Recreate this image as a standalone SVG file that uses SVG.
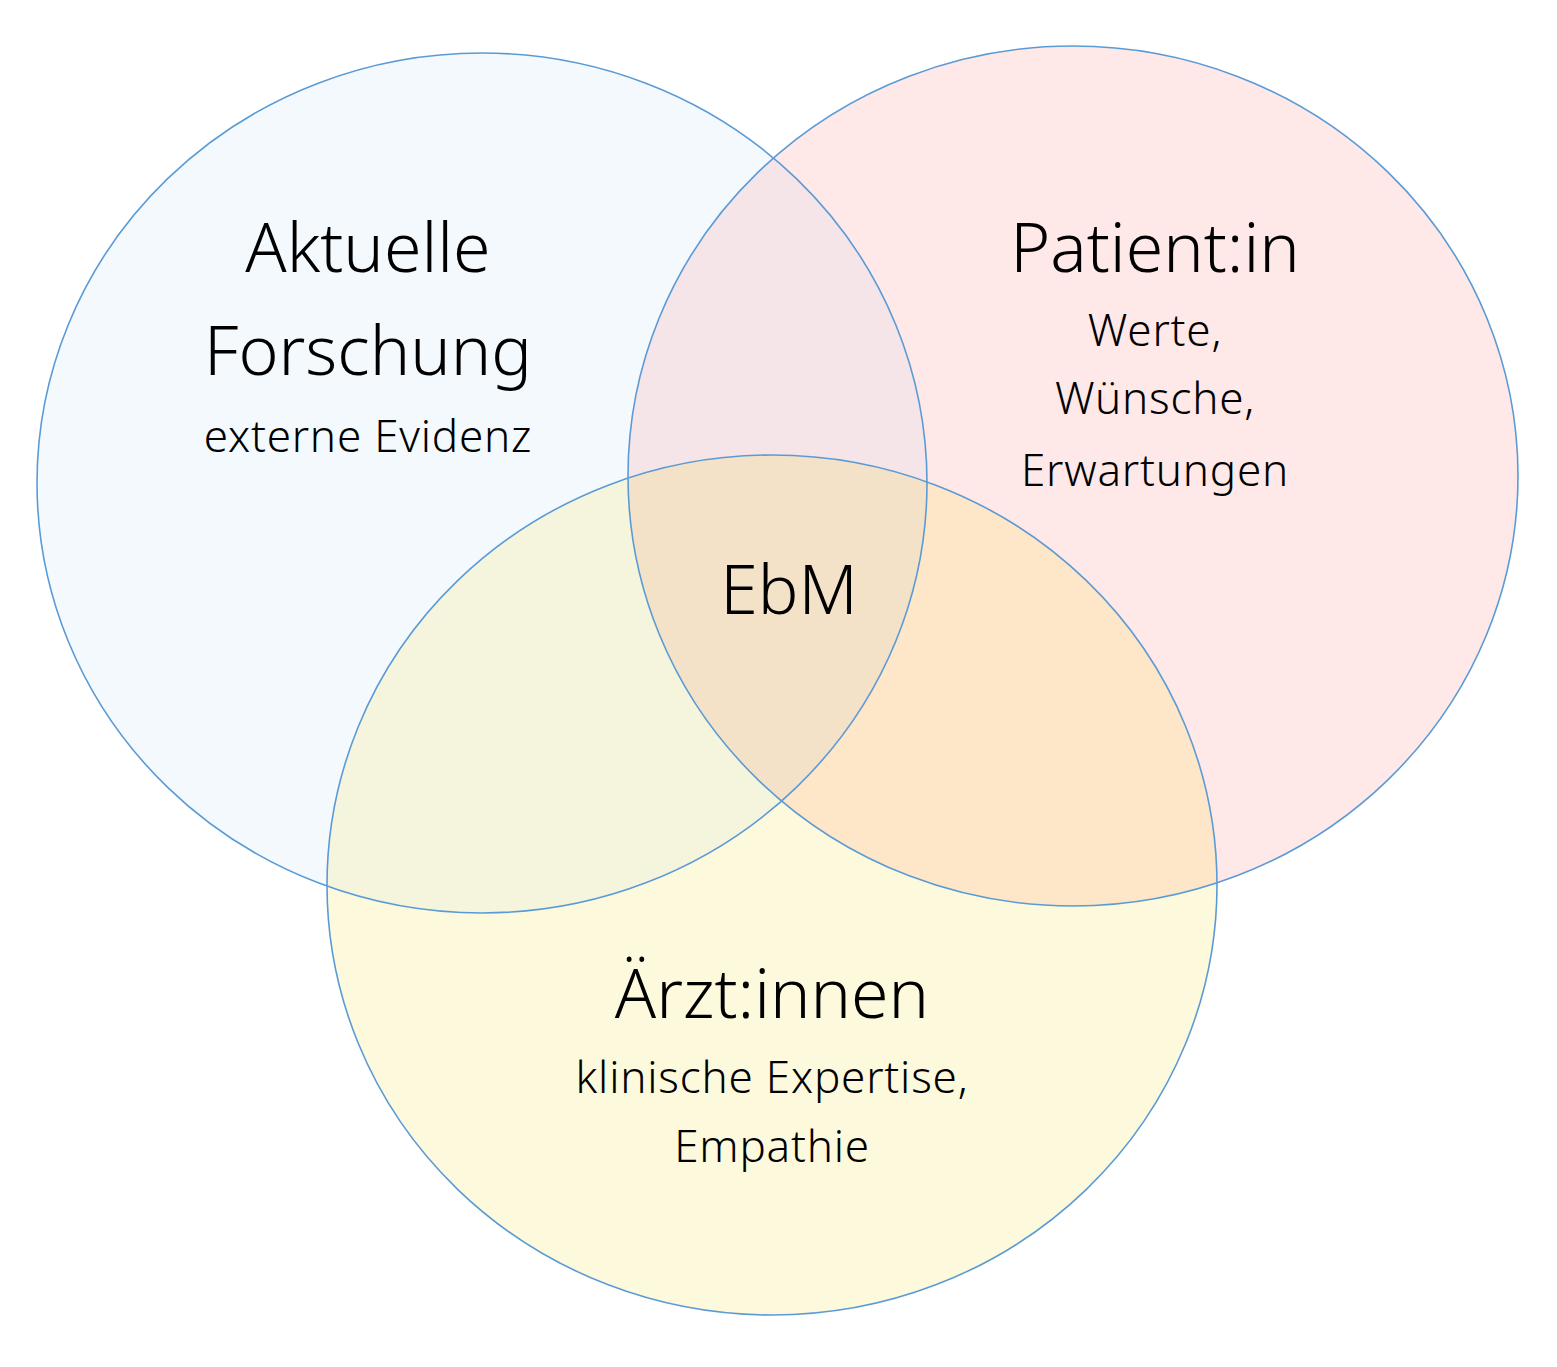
<svg xmlns="http://www.w3.org/2000/svg" width="1557" height="1367" viewBox="0 0 1557 1367">
<style>
.o{fill:none;stroke:#5b9bd5;stroke-width:1.6}
text{font-family:"Noto Sans","Liberation Sans",sans-serif;fill:#000;text-anchor:middle;font-weight:300}
.b{font-size:68px}.s{font-size:44px;letter-spacing:0.8px}
</style>
<defs>
<clipPath id="cA"><ellipse cx="482" cy="483" rx="445" ry="430"/></clipPath>
<clipPath id="cB"><ellipse cx="1073" cy="476" rx="445" ry="430"/></clipPath>
</defs>
<rect width="1557" height="1367" fill="#fff"/>
<g id="fills">
<ellipse cx="482" cy="483" rx="445" ry="430" fill="#f4f9fd"/>
<ellipse cx="1073" cy="476" rx="445" ry="430" fill="#fee8e8"/>
<ellipse cx="772" cy="885" rx="445" ry="430" fill="#fdf9dd"/>
<ellipse cx="1073" cy="476" rx="445" ry="430" fill="#f5e4e8" clip-path="url(#cA)"/>
<ellipse cx="772" cy="885" rx="445" ry="430" fill="#f5f5de" clip-path="url(#cA)"/>
<ellipse cx="772" cy="885" rx="445" ry="430" fill="#fee6c8" clip-path="url(#cB)"/>
<g clip-path="url(#cA)"><ellipse cx="772" cy="885" rx="445" ry="430" fill="#f4e2c8" clip-path="url(#cB)"/></g>
</g>
<g id="outlines">
<ellipse class="o" cx="482" cy="483" rx="445" ry="430"/>
<ellipse class="o" cx="1073" cy="476" rx="445" ry="430"/>
<ellipse class="o" cx="772" cy="885" rx="445" ry="430"/>
</g>
<g id="forschung">
<text class="b" x="368" y="272">Aktuelle</text>
<text class="b" x="368" y="375">Forschung</text>
<text class="s" x="368" y="452">externe Evidenz</text>
</g>
<g id="patient">
<text class="b" x="1155" y="272">Patient:in</text>
<text class="s" x="1155" y="346">Werte,</text>
<text class="s" x="1155" y="414">Wünsche,</text>
<text class="s" x="1155" y="486">Erwartungen</text>
</g>
<g id="ebm"><text class="b" x="789" y="614">EbM</text></g>
<g id="aerzte">
<text class="b" x="772" y="1018">Ärzt:innen</text>
<text class="s" x="772" y="1093">klinische Expertise,</text>
<text class="s" x="772" y="1162">Empathie</text>
</g>
<g id="connectors"/>
</svg>
